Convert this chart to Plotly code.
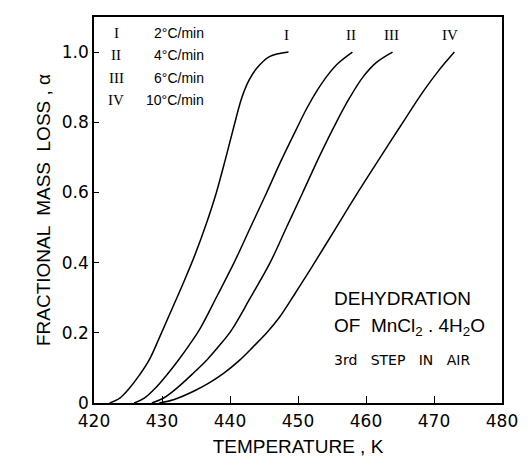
import plotly.graph_objects as go

# Curve data: temperature (K) and fractional mass loss
t_I = [422.3, 423.8, 425.2, 426.7, 428.1, 429.7, 431.4, 433.2, 434.9, 436.5, 438.0, 439.4, 440.6, 441.7, 442.8, 443.9, 445.8, 448.6]
a_I = [0.0, 0.014, 0.042, 0.08, 0.122, 0.19, 0.265, 0.345, 0.425, 0.51, 0.6, 0.7, 0.79, 0.868, 0.92, 0.953, 0.987, 1.0]

t_II = [425.9, 427.4, 429.0, 430.7, 432.4, 434.0, 435.6, 438.1, 440.6, 443.0, 445.4, 447.5, 449.7, 451.3, 452.8, 454.4, 455.9, 458.0]
a_II = [0.0, 0.014, 0.042, 0.08, 0.122, 0.165, 0.212, 0.305, 0.4, 0.5, 0.6, 0.69, 0.778, 0.84, 0.89, 0.935, 0.968, 1.0]

t_III = [428.5, 430.3, 432.4, 434.6, 436.7, 438.5, 440.3, 443.0, 445.9, 448.3, 450.7, 453.2, 455.5, 457.6, 459.6, 461.5, 463.9]
a_III = [0.0, 0.015, 0.046, 0.085, 0.125, 0.165, 0.21, 0.3, 0.4, 0.5, 0.6, 0.705, 0.795, 0.87, 0.93, 0.97, 1.0]

t_IV = [429.6, 431.8, 434.8, 437.0, 439.1, 441.3, 443.4, 445.4, 447.3, 449.5, 451.8, 455.3, 458.8, 462.0, 465.1, 468.5, 470.8, 473.0]
a_IV = [0.0, 0.01, 0.035, 0.058, 0.085, 0.12, 0.16, 0.2, 0.245, 0.31, 0.38, 0.49, 0.6, 0.697, 0.79, 0.89, 0.95, 1.0]

curve_names = ["I", "II", "III", "IV"]
heating_rates = ["2°C/min", "4°C/min", "6°C/min", "10°C/min"]
label_t = [448.3, 457.8, 463.8, 472.4]

x_ticks = [420, 430, 440, 450, 460, 470, 480]
y_ticks = [0, 0.2, 0.4, 0.6, 0.8, 1.0]
y_tick_text = ["0", "0.2", "0.4", "0.6", "0.8", "1.0"]

SANS = "Liberation Sans"
WIDE = "DejaVu Sans"
SERIF = "Liberation Serif"

fig = go.Figure()
for t, a in [(t_I, a_I), (t_II, a_II), (t_III, a_III), (t_IV, a_IV)]:
    fig.add_trace(go.Scatter(x=t, y=a, mode="lines",
                             line=dict(color="black", width=1.5, shape="spline", smoothing=1.0),
                             showlegend=False, hoverinfo="skip"))

# Curve labels at top
for name, lt in zip(curve_names, label_t):
    fig.add_annotation(x=lt, y=1.048, text=name, showarrow=False,
                       font=dict(family=SERIF, size=15, color="black"))

# Legend table top-left
legend_y = [1.054, 0.991, 0.926, 0.863]
for name, rate, ly in zip(curve_names, heating_rates, legend_y):
    fig.add_annotation(x=423.3, y=ly, text=name, showarrow=False,
                       font=dict(family=SERIF, size=15, color="black"))
    fig.add_annotation(x=436.4, y=ly, text=rate, showarrow=False, xanchor="right",
                       font=dict(family=SANS, size=14, color="black"))

# Text block bottom-right
fig.add_annotation(x=455.0, y=0.299, text="DEHYDRATION", showarrow=False, xanchor="left",
                   font=dict(family=SANS, size=19, color="black"))
fig.add_annotation(x=455.0, y=0.217, text="OF  MnCl<sub>2</sub> . 4H<sub>2</sub>O", showarrow=False,
                   xanchor="left", font=dict(family=SANS, size=19, color="black"))
fig.add_annotation(x=455.0, y=0.123, text="3rd   STEP   IN   AIR", showarrow=False, xanchor="left",
                   font=dict(family=WIDE, size=14, color="black"))

fig.update_layout(
    width=530, height=466,
    margin=dict(l=94, r=19, t=17, b=63),
    paper_bgcolor="white", plot_bgcolor="white",
    font=dict(family=SANS, color="black"),
)
fig.update_xaxes(range=[420, 480], tickvals=x_ticks, ticks="inside", ticklen=7, tickwidth=1.2,
                 tickcolor="black", showline=True, linecolor="black", linewidth=1.5, mirror=True,
                 showgrid=False, zeroline=False, tickfont=dict(family=WIDE, size=17),
                 ticklabelstandoff=2,
                 title=dict(text="TEMPERATURE , K", font=dict(family=SANS, size=19), standoff=10))
fig.update_yaxes(range=[0, 1.1], tickvals=y_ticks, ticktext=y_tick_text, ticks="inside", ticklen=5,
                 tickwidth=1.2, tickcolor="black", showline=True, linecolor="black", linewidth=1.5,
                 mirror=True, showgrid=False, zeroline=False, tickfont=dict(family=WIDE, size=17),
                 title=dict(text="FRACTIONAL  MASS  LOSS , α", font=dict(family=SANS, size=19), standoff=6))

fig.write_html("out.html")
